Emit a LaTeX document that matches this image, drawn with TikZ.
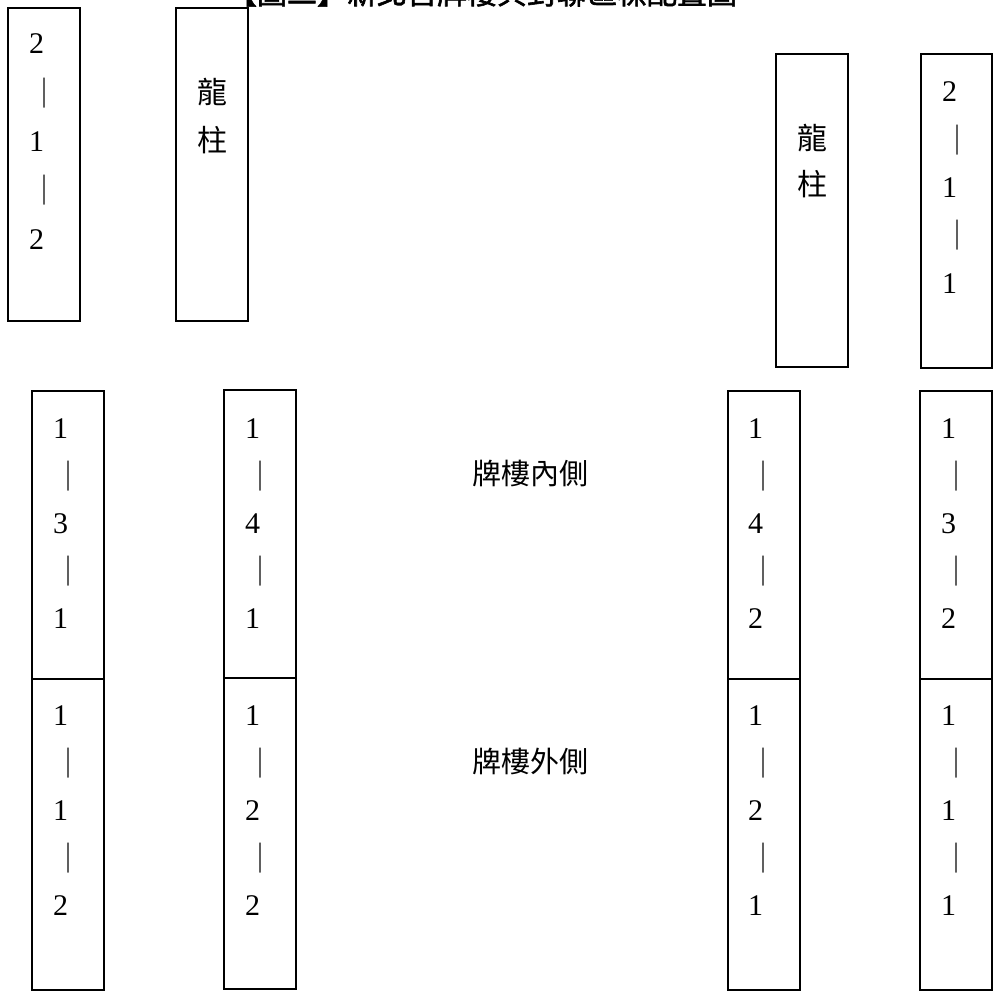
\documentclass[tikz,border=0pt]{standalone}
\usepackage{fontspec}
\setmainfont{Liberation Serif}
\newfontfamily\cjk{Noto Sans CJK TC}
\newfontfamily\cjkb[FakeBold=2]{Noto Sans CJK TC}
\usetikzlibrary{fit}
\tikzset{
  box/.style={draw, line width=1.6pt, inner sep=0pt},
  num/.style={font=\fontsize{30}{30}\selectfont, inner sep=0pt, anchor=west},
  vbar/.style={font=\cjk\fontsize{30}{30}\selectfont, inner sep=0pt},
  hanzi/.style={font=\cjk\fontsize{30}{30}\selectfont, inner sep=0pt, anchor=west},
  label/.style={font=\cjk\fontsize{29}{29}\selectfont, inner sep=0pt},
  title/.style={font=\cjkb\fontsize{30}{30}\selectfont, inner sep=0pt, anchor=base}
}
\newcommand\colfive[7]{%
  \node[num] (#1a) at (#2,#3) {#5};
  \node[vbar] (#1b) at (#2+15,#3+#4) {｜};
  \node[num] (#1c) at (#2,#3+2*#4) {#6};
  \node[vbar] (#1d) at (#2+15,#3+3*#4) {｜};
  \node[num] (#1e) at (#2,#3+4*#4) {#7};
}
\newcommand\boxnode[5]{\node[box, fit={(#2,#3) (#4,#5)}] (#1) {};}
\begin{document}
\begin{tikzpicture}[x=1pt,y=-1pt]
\useasboundingbox (0,0) rectangle (994,994);
\clip (0,0) rectangle (994,994);
% title (cut off at the top edge, as in the reference)
\node[title] (ttl) at (482,4) {【圖二】新北宮牌樓與對聯區標配置圖};
% top row
\boxnode{bA}{8}{8}{80}{321}
\boxnode{bB}{176}{8}{248}{321}
\boxnode{bC}{776}{54}{848}{367}
\boxnode{bD}{921}{54}{992}{368}
\colfive{tA}{29}{44}{48.8}{2}{1}{2}
\node[hanzi] (lB1) at (197,92) {龍};
\node[hanzi] (lB2) at (197,140) {柱};
\node[hanzi] (lC1) at (797,138) {龍};
\node[hanzi] (lC2) at (797,184) {柱};
\colfive{tD}{942}{92}{47.8}{2}{1}{1}
% bottom row, upper halves
\boxnode{bEu}{32}{391}{104}{679}
\boxnode{bFu}{224}{390}{296}{678}
\boxnode{bGu}{728}{391}{800}{679}
\boxnode{bHu}{920}{391}{992}{679}
% bottom row, lower halves
\boxnode{bEl}{32}{679}{104}{990}
\boxnode{bFl}{224}{678}{296}{989}
\boxnode{bGl}{728}{679}{800}{990}
\boxnode{bHl}{920}{679}{992}{990}
\colfive{tEu}{53}{429}{47.5}{1}{3}{1}
\colfive{tFu}{245}{429}{47.5}{1}{4}{1}
\colfive{tGu}{748}{429}{47.5}{1}{4}{2}
\colfive{tHu}{941}{429}{47.5}{1}{3}{2}
\colfive{tEl}{53}{716}{47.5}{1}{1}{2}
\colfive{tFl}{245}{716}{47.5}{1}{2}{2}
\colfive{tGl}{748}{716}{47.5}{1}{2}{1}
\colfive{tHl}{941}{716}{47.5}{1}{1}{1}
% middle labels
\node[label] (inner) at (530,473) {牌樓內側};
\node[label] (outer) at (530,761) {牌樓外側};
\end{tikzpicture}
\end{document}
